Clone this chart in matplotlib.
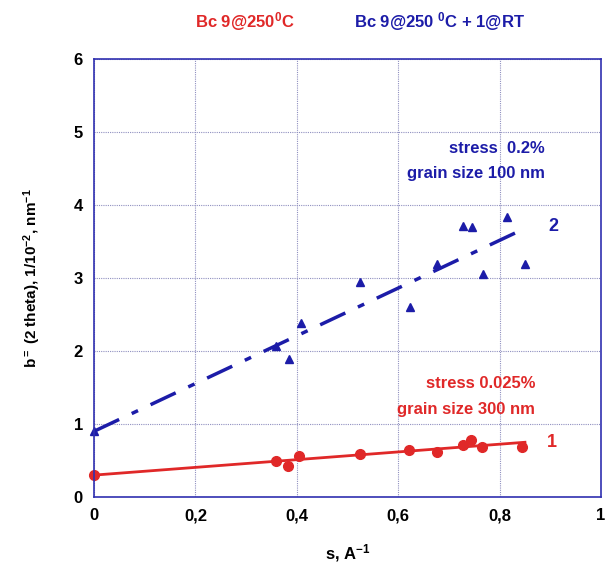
import numpy as np
import matplotlib.pyplot as plt

plt.rcParams['font.family'] = ['Liberation Sans', 'DejaVu Sans']
plt.rcParams['font.weight'] = 'bold'
plt.rcParams['axes.labelweight'] = 'bold'
plt.rcParams['mathtext.fontset'] = 'custom'
plt.rcParams['mathtext.rm'] = 'Liberation Sans:bold'
plt.rcParams['mathtext.it'] = 'Liberation Sans:bold'
plt.rcParams['mathtext.bf'] = 'Liberation Sans:bold'
plt.rcParams['mathtext.default'] = 'rm'

# sample 1: Bc 9@250C
s1 = [0.0, 0.359, 0.383, 0.404, 0.525, 0.622, 0.676, 0.728, 0.743, 0.765, 0.845]
b1 = [0.30, 0.49, 0.43, 0.56, 0.59, 0.64, 0.61, 0.71, 0.78, 0.68, 0.69]
fit1 = [0.30, 0.75]

# sample 2: Bc 9@250C + 1@RT
s2 = [0.0, 0.359, 0.385, 0.408, 0.525, 0.623, 0.676, 0.728, 0.745, 0.768, 0.814, 0.85]
b2 = [0.90, 2.07, 1.89, 2.39, 2.94, 2.60, 3.19, 3.71, 3.70, 3.06, 3.83, 3.19]
fit2 = [0.90, 3.68]
fit_s = [0.0, 0.85]

red = '#e02828'
blue = '#1c1ca8'

fig = plt.figure(figsize=(6.05, 5.72), dpi=100)
ax = fig.add_axes([0.1554, 0.1311, 0.838, 0.7657])

ax.plot(fit_s, fit1, color=red, lw=2)
ax.plot(s1, b1, 'o', color=red, ms=7, clip_on=False)
ax.plot(fit_s, fit2, color=blue, lw=2.5, dashes=(8, 4, 2, 4))
ax.plot(s2, b2, '^', color=blue, ms=6, clip_on=False)

ax.set_xlim(0, 1)
ax.set_ylim(0, 6)
ax.set_xticks([0, 0.2, 0.4, 0.6, 0.8, 1])
ax.set_xticklabels(['0', '0,2', '0,4', '0,6', '0,8', '1'])
ax.set_yticks(range(7))
ax.tick_params(labelsize=12, length=0, pad=8)
ax.grid(True, color='#9090c0', linestyle=(0, (1, 1)), lw=0.8)
for sp in ax.spines.values():
    sp.set_color('#3030b0')
    sp.set_linewidth(1.2)

ax.set_xlabel('s, A$^{-1}$', fontsize=12, labelpad=14)
ax.set_ylabel('b$^{=}$ (2 theta), 1/10$^{-2}$, nm$^{-1}$', fontsize=11, labelpad=22)

ax.text(0.897, 3.7, '2', color=blue, fontsize=13, va='center')
ax.text(0.893, 0.75, '1', color=red, fontsize=13, va='center')
ax.text(0.89, 4.78, 'stress  0.2%', color=blue, fontsize=12, ha='right', va='center')
ax.text(0.89, 4.43, 'grain size 100 nm', color=blue, fontsize=12, ha='right', va='center')
ax.text(0.87, 1.56, 'stress 0.025%', color=red, fontsize=12, ha='right', va='center')
ax.text(0.87, 1.20, 'grain size 300 nm', color=red, fontsize=12, ha='right', va='center')

fig.text(245 / 605, 1 - 22 / 572, 'Bc 9@250$^{0}$C', color=red, fontsize=12, ha='center', va='center')
fig.text(440 / 605, 1 - 22 / 572, 'Bc 9@250 $^{0}$C + 1@RT', color=blue, fontsize=12, ha='center', va='center')

fig.savefig('out.png', dpi=100)
